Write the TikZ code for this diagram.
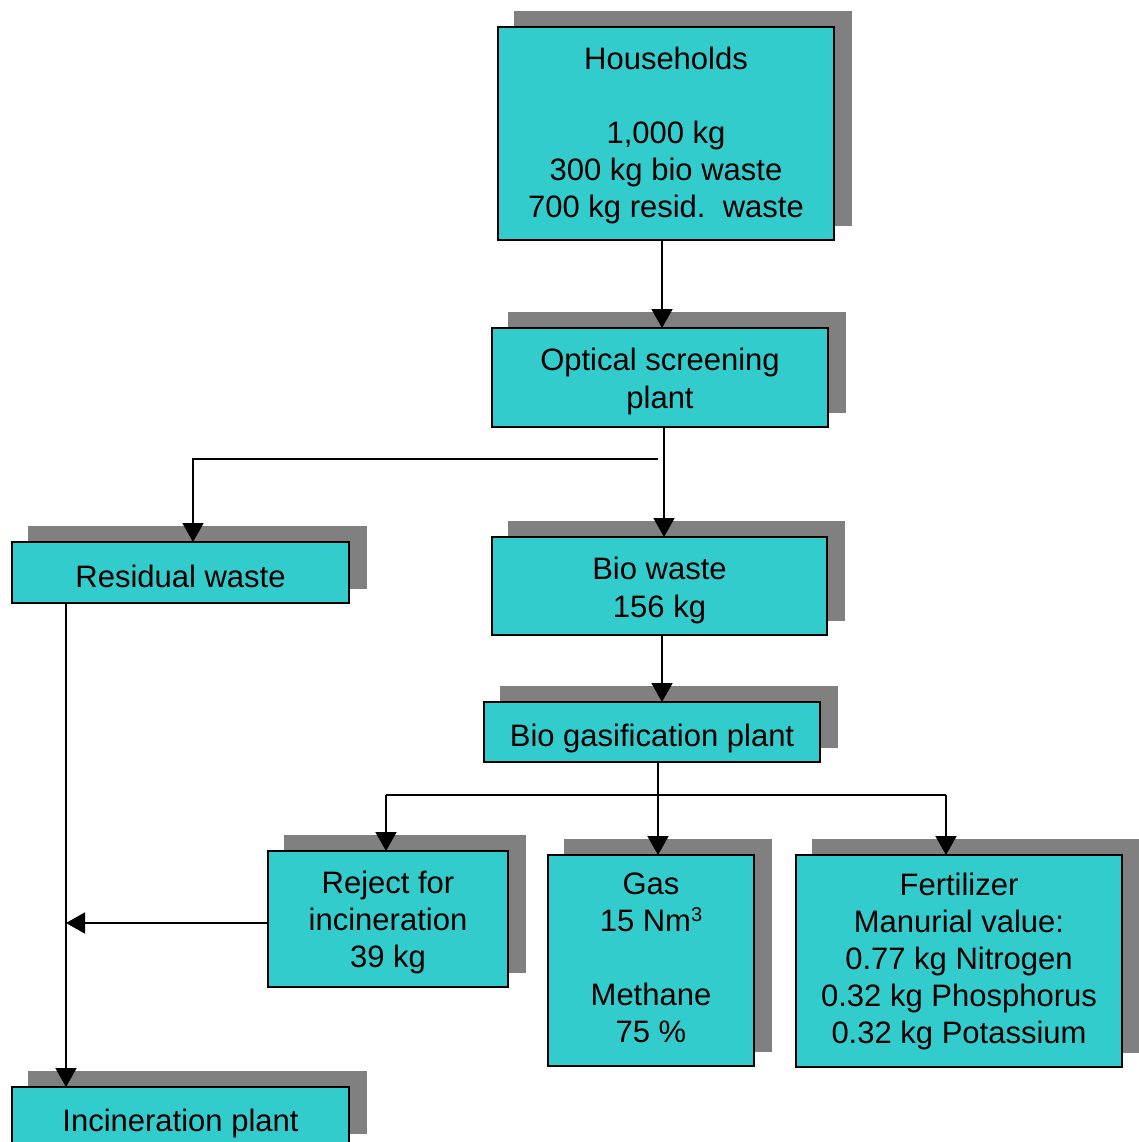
\documentclass[tikz,border=0pt]{standalone}
\usepackage{fontspec}
\setmainfont{Liberation Sans}
\usetikzlibrary{arrows.meta,backgrounds,calc}
\definecolor{boxfill}{HTML}{33CCCC}
\definecolor{shadowgray}{HTML}{808080}

\begin{document}
\begin{tikzpicture}[x=1pt,y=-1pt,
  box/.style={draw=black, line width=2pt, fill=boxfill, inner sep=0pt, outer sep=0pt,
    anchor=north west},
  txt/.style={inner sep=0pt, align=center, font=\fontsize{31}{37}\selectfont},
  arr/.style={line width=1.8pt, -{Triangle[width=21pt,length=19pt]}},
  link/.style={line width=1.8pt}]
\useasboundingbox (0,0) rectangle (1138,1142);

% process boxes
\node[box, minimum width=336pt, minimum height=213pt] (hh) at (498,27) {};
\node[box, minimum width=336pt, minimum height=99pt] (opt) at (492,328) {};
\node[box, minimum width=337pt, minimum height=61pt] (resid) at (12,542) {};
\node[box, minimum width=335pt, minimum height=98pt] (bio) at (492,537) {};
\node[box, minimum width=336pt, minimum height=60pt] (gasif) at (484,702) {};
\node[box, minimum width=240pt, minimum height=136pt] (rej) at (268,851) {};
\node[box, minimum width=206pt, minimum height=211pt] (gas) at (548,855) {};
\node[box, minimum width=326pt, minimum height=212pt] (fert) at (796,855) {};
\node[box, minimum width=337pt, minimum height=61pt] (incin) at (12,1087) {};

% box texts
\node[txt] (hh-t) at ($(hh.center)+(0,2)$)
  {Households\\[37pt]1,000 kg\\300 kg bio waste\\700 kg resid.\ \ waste};
\node[txt, font=\fontsize{31}{38}\selectfont] (opt-t) at ($(opt.center)+(0,4)$)
  {Optical screening\\plant};
\node[txt] (resid-t) at ($(resid.center)+(0,4)$) {Residual waste};
\node[txt, font=\fontsize{31}{38}\selectfont] (bio-t) at ($(bio.center)+(0,4)$)
  {Bio waste\\156 kg};
\node[txt] (gasif-t) at ($(gasif.center)+(0,6)$) {Bio gasification plant};
\node[txt] (rej-t) at ($(rej.center)+(0,3)$) {Reject for\\incineration\\39 kg};
\node[txt] (gas-t) at ($(gas.center)+(0,-3)$)
  {Gas\\15 Nm\raisebox{10pt}[0pt][0pt]{\fontsize{20}{20}\selectfont 3}\\[37pt]Methane\\75 \%};
\node[txt] (fert-t) at (fert.center)
  {Fertilizer\\Manurial value:\\0.77 kg Nitrogen\\0.32 kg Phosphorus\\0.32 kg Potassium};
\node[txt] (incin-t) at ($(incin.center)+(0,6)$) {Incineration plant};

% drop shadows behind the boxes
\begin{scope}[on background layer]
  \foreach \n in {hh,opt,resid,bio,gasif,rej,gas,fert,incin}
    \fill[shadowgray] ($(\n.south west)+(16,-14)$) rectangle ($(\n.north east)+(18,-16)$);
\end{scope}

% connector guide positions
\coordinate (xa) at (662,0);
\coordinate (xb) at (664,0);
\coordinate (split) at (658,459);
\coordinate (xr) at (193,0);
\coordinate (xc) at (658,0);
\coordinate (bus) at (0,795);
\coordinate (xrej) at (386,0);
\coordinate (xfert) at (946,0);
\coordinate (xres) at (66,0);
\coordinate (yrej) at (0,923);

% flows
\draw[arr] (hh.south -| xa) -- (opt.north -| xa);
\draw[arr] (opt.south -| xb) -- (bio.north -| xb);
\draw[arr] (split) -| (resid.north -| xr);
\draw[arr] (bio.south -| xa) -- (gasif.north -| xa);
\draw[arr] (gasif.south -| xc) -- (gas.north -| xc);
\draw[link] (bus -| xrej) -- (bus -| xfert);
\draw[arr] (bus -| xrej) -- (rej.north -| xrej);
\draw[arr] (bus -| xfert) -- (fert.north -| xfert);
\draw[arr] (resid.south -| xres) -- (incin.north -| xres);
\draw[arr] (yrej -| rej.west) -- (yrej -| xres);
\end{tikzpicture}
\end{document}
